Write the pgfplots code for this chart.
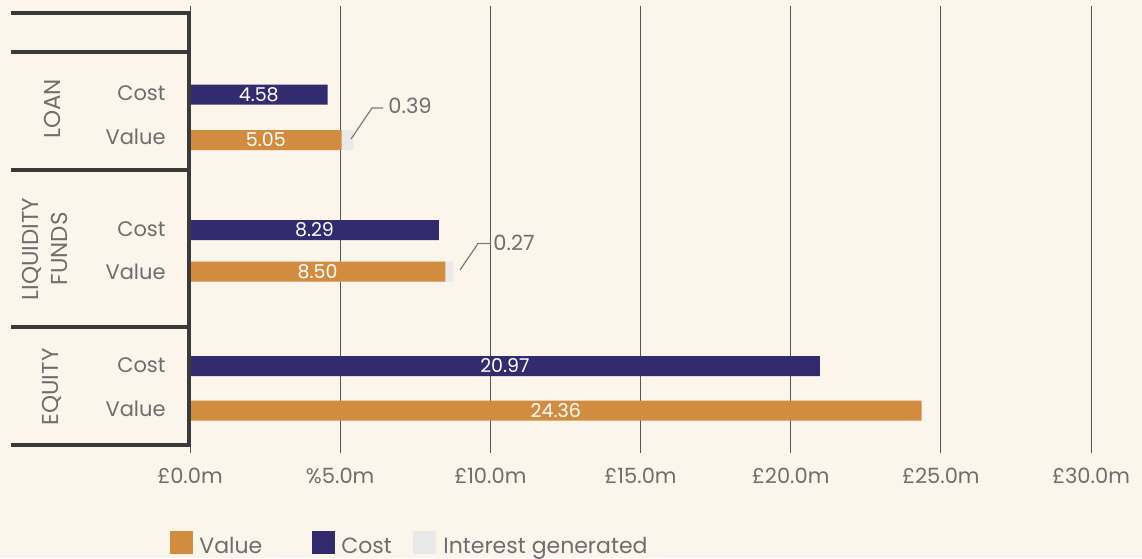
\documentclass[border=0pt]{standalone}
\usepackage{pgfplots}
\pgfplotsset{compat=1.18}
\usepackage{fontspec}
\setmainfont{Poppins}
\definecolor{bg}{HTML}{FCF5EB}
\definecolor{valc}{HTML}{D18C40}
\definecolor{costc}{HTML}{322B6D}
\definecolor{intc}{HTML}{E9E9E9}
\definecolor{txt}{HTML}{6E6E6E}
\definecolor{linec}{HTML}{3A3A3A}
\definecolor{gridc}{HTML}{555555}
\definecolor{leadc}{HTML}{7A7A7A}
\newcommand{\lab}{\fontsize{10.5}{13}\selectfont}
\newcommand{\barlab}{\fontsize{9.5}{11}\selectfont}
\begin{document}
\begin{tikzpicture}[x=0.5pt,y=-0.5pt, every node/.append style={inner sep=0pt}]
% background, sets the page size (1 px = 0.5pt)
\fill[bg] (0,0) rectangle (1142,558);
\begin{axis}[
  at={(95pt,-226.5pt)}, anchor=south west,
  scale only axis, width=450.5pt, height=223.5pt,
  xmin=0, xmax=30, ymin=-453, ymax=-6,
  axis line style={draw=none},
  xtick={0,5,...,30}, ytick=\empty,
  xticklabels={£0.0m,\%5.0m,£10.0m,£15.0m,£20.0m,£25.0m,£30.0m},
  major tick length=0pt,
  xmajorgrids, grid style={draw=gridc, line width=0.5pt},
  xticklabel style={font=\lab, text=txt, anchor=base, yshift=-15pt},
  xbar, bar shift=0pt, bar width=20,
  clip=false,
]
% interest generated (drawn as total length, value bar on top)
\addplot[fill=intc, draw=none] coordinates {(5.44,-140) (8.77,-271.5)};
\addplot[fill=valc, draw=none] coordinates {(5.05,-140) (8.50,-271.5) (24.36,-410.5)};
\addplot[fill=costc, draw=none] coordinates {(4.58,-94.5) (8.29,-230) (20.97,-366)};
% labels inside bars
\begin{scope}[every node/.style={font=\barlab, text=white, anchor=base, inner sep=0pt}]
\node at (2.29,-101) {4.58};
\node at (2.525,-146.5) {5.05};
\node at (4.145,-236.5) {8.29};
\node at (4.25,-278) {8.50};
\node at (10.485,-372.5) {20.97};
\node at (12.18,-417) {24.36};
\end{scope}
\end{axis}
% left frame
\draw[line width=2pt, linec, line join=miter] (11,13) -- (188.5,13) -- (188.5,445) -- (11,445);
\draw[line width=2pt, linec] (11,52) -- (188.5,52);
\draw[line width=2pt, linec] (11,170) -- (188.5,170);
\draw[line width=2pt, linec] (11,326.5) -- (188.5,326.5);
% group labels
\begin{scope}[every node/.style={font=\fontsize{11.5}{14.75}\selectfont, text=txt, rotate=90, align=center, inner sep=0pt}]
\node at (52,109) {LOAN};
\node at (44.75,249) {LIQUIDITY\\FUNDS};
\node at (52,387) {EQUITY};
\end{scope}
% sub labels
\begin{scope}[every node/.style={font=\lab, text=txt, anchor=base east, inner sep=0pt}]
\node at (166,100) {Cost};
\node at (166,144) {Value};
\node at (166,236) {Cost};
\node at (166,279) {Value};
\node at (166,372) {Cost};
\node at (166,416) {Value};
\end{scope}
% interest annotations
\draw[leadc, line width=0.6pt] (351,139) -- (372,108) -- (383,108);
\node[font=\lab, text=txt, anchor=base west] at (388,113) {0.39};
\draw[leadc, line width=0.6pt] (460,270) -- (478,243.5) -- (491,243.5);
\node[font=\lab, text=txt, anchor=base west] at (493,250) {0.27};
% legend
\fill[valc] (170,531) rectangle (193,554);
\node[font=\fontsize{11}{13}\selectfont, text=txt, anchor=base west] at (199,553) {Value};
\fill[costc] (312,531) rectangle (335,554);
\node[font=\fontsize{11}{13}\selectfont, text=txt, anchor=base west] at (341,553) {Cost};
\fill[intc] (413,531) rectangle (436,554);
\node[font=\fontsize{11}{13}\selectfont, text=txt, anchor=base west] at (443,553) {Interest generated};
\end{tikzpicture}
\end{document}
